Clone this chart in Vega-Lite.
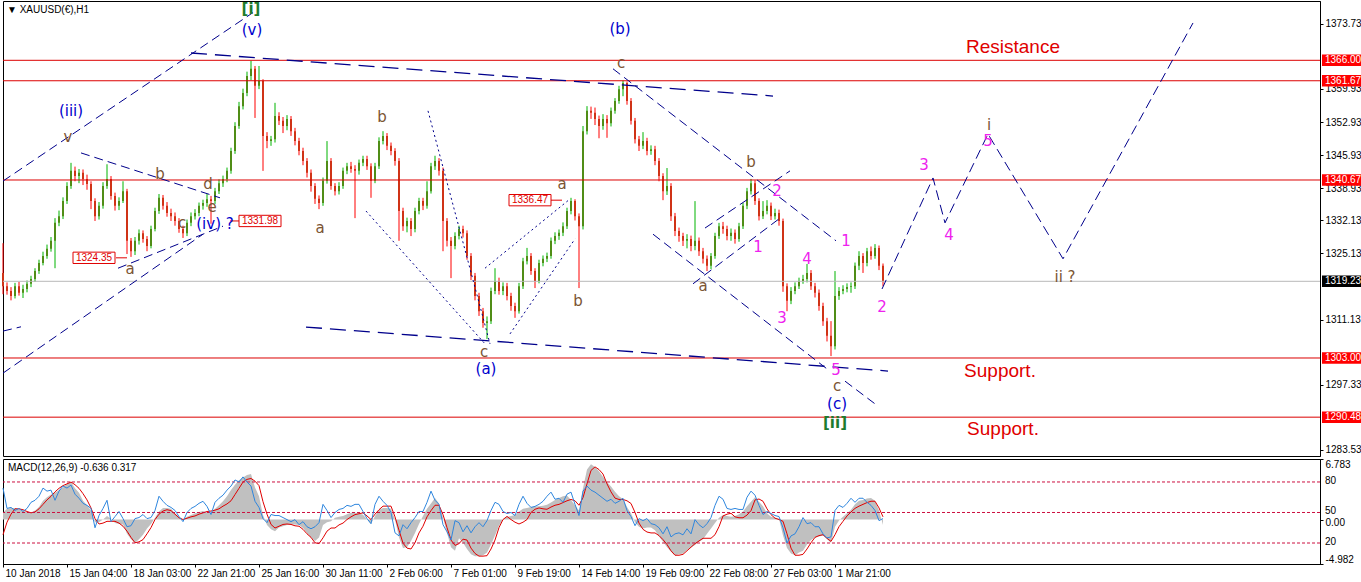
{
"$schema": "https://vega.github.io/schema/vega-lite/v6.json",
"background": "#FFFFFF",
"padding": 0,
"spacing": 1,
"config": {
  "view": {"stroke": "#000000", "strokeWidth": 1},
  "axis": {"labelFont": "Liberation Sans", "labelFontSize": 10, "labelColor": "#000000", "tickColor": "#000000", "domainColor": "#000000", "grid": false}
},
"data": {"name": "bars"},
"datasets": {
"bars": [
{"i":0,"o":1321.0,"h":1327.3,"l":1316.5,"c":1318.2,"m":0.8,"s":-1.7,"r":74},
{"i":4,"o":1318.2,"h":1319.0,"l":1316.4,"c":1317.2,"m":1.2,"s":-0.3,"r":54},
{"i":8,"o":1317.2,"h":1318.0,"l":1315.2,"c":1316.1,"m":1.3,"s":0.6,"r":55},
{"i":12,"o":1316.1,"h":1318.9,"l":1315.6,"c":1318.2,"m":1.3,"s":1.2,"r":52},
{"i":16,"o":1318.2,"h":1319.1,"l":1316.2,"c":1316.8,"m":1.1,"s":1.2,"r":54},
{"i":20,"o":1316.8,"h":1318.5,"l":1315.7,"c":1317.6,"m":1.0,"s":1.1,"r":51},
{"i":24,"o":1317.6,"h":1319.4,"l":1316.9,"c":1318.7,"m":0.85,"s":0.9,"r":54},
{"i":28,"o":1318.7,"h":1320.4,"l":1318.0,"c":1319.7,"m":0.8,"s":0.75,"r":60},
{"i":32,"o":1319.7,"h":1322.0,"l":1319.1,"c":1321.4,"m":1.0,"s":0.85,"r":62},
{"i":36,"o":1321.4,"h":1323.8,"l":1320.8,"c":1323.1,"m":1.4,"s":1.2,"r":66},
{"i":40,"o":1323.1,"h":1325.5,"l":1322.6,"c":1324.6,"m":2.1,"s":1.7,"r":74},
{"i":44,"o":1324.6,"h":1327.0,"l":1324.0,"c":1326.1,"m":2.5,"s":2.2,"r":71},
{"i":48,"o":1326.1,"h":1328.6,"l":1325.5,"c":1327.8,"m":2.8,"s":2.6,"r":72},
{"i":52,"o":1327.8,"h":1332.6,"l":1322.0,"c":1331.6,"m":3.0,"s":3.1,"r":62},
{"i":56,"o":1331.6,"h":1334.2,"l":1330.9,"c":1333.0,"m":3.3,"s":3.5,"r":71},
{"i":60,"o":1333.0,"h":1337.0,"l":1332.4,"c":1336.2,"m":3.6,"s":3.8,"r":76},
{"i":64,"o":1336.2,"h":1340.2,"l":1335.6,"c":1339.4,"m":4.0,"s":4.0,"r":74},
{"i":68,"o":1339.4,"h":1344.3,"l":1338.8,"c":1342.6,"m":4.2,"s":4.2,"r":77},
{"i":72,"o":1342.6,"h":1343.5,"l":1340.4,"c":1341.5,"m":3.5,"s":3.9,"r":68},
{"i":76,"o":1341.5,"h":1343.0,"l":1340.0,"c":1342.2,"m":3.0,"s":3.5,"r":64},
{"i":80,"o":1342.2,"h":1342.9,"l":1339.6,"c":1340.9,"m":2.1,"s":2.9,"r":59},
{"i":84,"o":1340.9,"h":1341.8,"l":1338.6,"c":1339.8,"m":1.6,"s":2.2,"r":57},
{"i":88,"o":1339.8,"h":1340.4,"l":1334.5,"c":1336.2,"m":1.0,"s":1.3,"r":54},
{"i":92,"o":1336.2,"h":1336.8,"l":1332.0,"c":1333.0,"m":-0.3,"s":0.1,"r":35},
{"i":96,"o":1333.0,"h":1336.0,"l":1332.3,"c":1335.2,"m":-0.3,"s":-0.5,"r":47},
{"i":100,"o":1335.2,"h":1340.2,"l":1334.6,"c":1339.4,"m":0.0,"s":-0.4,"r":54},
{"i":104,"o":1339.4,"h":1344.0,"l":1338.8,"c":1340.9,"m":0.4,"s":-0.2,"r":62},
{"i":108,"o":1340.9,"h":1341.5,"l":1336.5,"c":1337.3,"m":0.1,"s":-0.2,"r":41},
{"i":112,"o":1337.3,"h":1338.0,"l":1334.2,"c":1335.2,"m":-0.4,"s":-0.2,"r":46},
{"i":116,"o":1335.2,"h":1337.0,"l":1334.3,"c":1336.2,"m":-0.5,"s":-0.4,"r":51},
{"i":120,"o":1336.2,"h":1340.4,"l":1335.8,"c":1338.3,"m":-0.55,"s":-0.75,"r":44},
{"i":124,"o":1338.3,"h":1338.8,"l":1325.0,"c":1327.8,"m":-1.6,"s":-1.3,"r":36},
{"i":128,"o":1327.8,"h":1328.4,"l":1324.4,"c":1325.6,"m":-2.2,"s":-2.0,"r":37},
{"i":132,"o":1325.6,"h":1328.6,"l":1324.8,"c":1327.8,"m":-2.6,"s":-2.6,"r":44},
{"i":136,"o":1327.8,"h":1330.2,"l":1327.0,"c":1329.4,"m":-2.2,"s":-2.5,"r":45},
{"i":140,"o":1329.4,"h":1330.0,"l":1327.4,"c":1328.2,"m":-1.7,"s":-2.25,"r":48},
{"i":144,"o":1328.2,"h":1328.8,"l":1325.6,"c":1326.7,"m":-1.0,"s":-1.6,"r":44},
{"i":148,"o":1326.7,"h":1331.0,"l":1326.2,"c":1330.3,"m":-0.5,"s":-0.9,"r":45},
{"i":152,"o":1330.3,"h":1334.8,"l":1329.8,"c":1334.1,"m":0.2,"s":0.0,"r":52},
{"i":156,"o":1334.1,"h":1337.7,"l":1333.5,"c":1336.9,"m":0.9,"s":0.6,"r":66},
{"i":160,"o":1336.9,"h":1337.5,"l":1334.4,"c":1335.2,"m":1.3,"s":0.95,"r":61},
{"i":164,"o":1335.2,"h":1336.0,"l":1332.9,"c":1333.7,"m":1.3,"s":1.1,"r":57},
{"i":168,"o":1333.7,"h":1334.6,"l":1332.0,"c":1333.0,"m":1.2,"s":1.0,"r":55},
{"i":172,"o":1333.0,"h":1333.8,"l":1331.0,"c":1332.0,"m":0.7,"s":0.6,"r":52},
{"i":176,"o":1332.0,"h":1332.6,"l":1329.5,"c":1330.3,"m":0.3,"s":0.2,"r":46},
{"i":180,"o":1330.3,"h":1331.0,"l":1328.4,"c":1329.4,"m":0.0,"s":0.0,"r":41},
{"i":184,"o":1329.4,"h":1332.3,"l":1328.8,"c":1331.6,"m":0.3,"s":0.15,"r":50},
{"i":188,"o":1331.6,"h":1333.8,"l":1330.9,"c":1333.0,"m":0.5,"s":0.3,"r":54},
{"i":192,"o":1333.0,"h":1334.5,"l":1332.3,"c":1333.7,"m":0.7,"s":0.4,"r":56},
{"i":196,"o":1333.7,"h":1335.9,"l":1333.0,"c":1335.2,"m":0.85,"s":0.6,"r":59},
{"i":200,"o":1335.2,"h":1336.5,"l":1334.4,"c":1335.8,"m":0.95,"s":0.75,"r":61},
{"i":204,"o":1335.8,"h":1337.7,"l":1335.0,"c":1336.6,"m":0.8,"s":0.9,"r":56},
{"i":208,"o":1336.6,"h":1337.3,"l":1331.4,"c":1336.2,"m":0.8,"s":0.95,"r":48},
{"i":212,"o":1336.2,"h":1339.0,"l":1335.6,"c":1338.3,"m":1.2,"s":1.05,"r":60},
{"i":216,"o":1338.3,"h":1340.8,"l":1337.7,"c":1340.0,"m":1.6,"s":1.2,"r":64},
{"i":220,"o":1340.0,"h":1341.6,"l":1339.2,"c":1340.9,"m":2.05,"s":1.5,"r":67},
{"i":224,"o":1340.9,"h":1343.3,"l":1340.2,"c":1342.6,"m":2.6,"s":1.75,"r":72},
{"i":228,"o":1342.6,"h":1347.5,"l":1342.0,"c":1346.8,"m":3.3,"s":2.1,"r":76},
{"i":232,"o":1346.8,"h":1352.9,"l":1346.2,"c":1352.1,"m":3.9,"s":2.8,"r":82},
{"i":236,"o":1352.1,"h":1357.2,"l":1351.5,"c":1356.3,"m":4.4,"s":3.5,"r":80},
{"i":240,"o":1356.3,"h":1360.0,"l":1355.6,"c":1359.1,"m":4.7,"s":4.2,"r":85},
{"i":244,"o":1359.1,"h":1363.6,"l":1358.4,"c":1362.7,"m":5.0,"s":4.5,"r":80},
{"i":248,"o":1362.7,"h":1365.9,"l":1361.8,"c":1364.2,"m":5.1,"s":4.6,"r":76},
{"i":252,"o":1364.2,"h":1364.8,"l":1353.8,"c":1360.6,"m":3.6,"s":4.3,"r":61},
{"i":256,"o":1360.6,"h":1364.8,"l":1359.9,"c":1361.6,"m":2.6,"s":3.8,"r":55},
{"i":260,"o":1361.6,"h":1362.0,"l":1342.6,"c":1350.0,"m":0.5,"s":2.0,"r":44},
{"i":264,"o":1350.0,"h":1350.8,"l":1347.4,"c":1348.9,"m":-0.6,"s":0.6,"r":40},
{"i":268,"o":1348.9,"h":1350.0,"l":1347.9,"c":1349.3,"m":-1.1,"s":-0.55,"r":48},
{"i":272,"o":1349.3,"h":1357.0,"l":1348.6,"c":1354.2,"m":-1.3,"s":-0.95,"r":47},
{"i":276,"o":1354.2,"h":1355.0,"l":1352.3,"c":1353.2,"m":-0.9,"s":-0.75,"r":47},
{"i":280,"o":1353.2,"h":1354.0,"l":1350.6,"c":1352.1,"m":-0.75,"s":-0.55,"r":45},
{"i":284,"o":1352.1,"h":1354.4,"l":1351.2,"c":1353.6,"m":-0.6,"s":-0.5,"r":43},
{"i":288,"o":1353.6,"h":1354.2,"l":1350.0,"c":1351.0,"m":-0.55,"s":-0.55,"r":41},
{"i":292,"o":1351.0,"h":1351.7,"l":1348.0,"c":1348.9,"m":-0.55,"s":-0.7,"r":43},
{"i":296,"o":1348.9,"h":1349.6,"l":1345.9,"c":1346.8,"m":-0.6,"s":-0.75,"r":38},
{"i":300,"o":1346.8,"h":1347.5,"l":1343.8,"c":1344.7,"m":-0.95,"s":-1.1,"r":41},
{"i":304,"o":1344.7,"h":1345.3,"l":1341.2,"c":1342.2,"m":-1.5,"s":-1.6,"r":36},
{"i":308,"o":1342.2,"h":1342.9,"l":1338.2,"c":1339.4,"m":-2.0,"s":-2.0,"r":34},
{"i":312,"o":1339.4,"h":1340.0,"l":1335.6,"c":1336.7,"m":-2.4,"s":-2.6,"r":36},
{"i":316,"o":1336.7,"h":1337.4,"l":1334.5,"c":1335.8,"m":-2.0,"s":-2.7,"r":40},
{"i":320,"o":1335.8,"h":1341.2,"l":1335.2,"c":1340.5,"m":-0.6,"s":-2.05,"r":58},
{"i":324,"o":1340.5,"h":1348.9,"l":1339.9,"c":1344.7,"m":-0.3,"s":-1.3,"r":52},
{"i":328,"o":1344.7,"h":1345.3,"l":1338.6,"c":1339.4,"m":-0.2,"s":-0.95,"r":45},
{"i":332,"o":1339.4,"h":1340.0,"l":1337.4,"c":1338.3,"m":0.2,"s":-0.95,"r":50},
{"i":336,"o":1338.3,"h":1340.2,"l":1337.6,"c":1339.4,"m":0.3,"s":-0.6,"r":53},
{"i":340,"o":1339.4,"h":1343.3,"l":1338.8,"c":1342.6,"m":0.4,"s":-0.4,"r":54},
{"i":344,"o":1342.6,"h":1344.3,"l":1341.9,"c":1343.6,"m":0.6,"s":0.0,"r":57},
{"i":348,"o":1343.6,"h":1344.5,"l":1342.2,"c":1343.0,"m":0.75,"s":0.3,"r":56},
{"i":352,"o":1343.0,"h":1343.8,"l":1332.6,"c":1342.6,"m":0.75,"s":0.55,"r":58},
{"i":356,"o":1342.6,"h":1345.0,"l":1341.8,"c":1344.3,"m":0.7,"s":0.65,"r":58},
{"i":360,"o":1344.3,"h":1345.8,"l":1343.6,"c":1345.1,"m":0.55,"s":0.75,"r":51},
{"i":364,"o":1345.1,"h":1345.8,"l":1342.8,"c":1343.6,"m":0.0,"s":0.4,"r":44},
{"i":368,"o":1343.6,"h":1344.2,"l":1336.9,"c":1340.5,"m":-0.5,"s":0.0,"r":39},
{"i":372,"o":1340.5,"h":1344.3,"l":1340.0,"c":1343.6,"m":0.4,"s":0.6,"r":58},
{"i":376,"o":1343.6,"h":1349.7,"l":1343.0,"c":1348.9,"m":1.1,"s":1.1,"r":66},
{"i":380,"o":1348.9,"h":1351.0,"l":1348.2,"c":1350.0,"m":1.3,"s":1.5,"r":61},
{"i":384,"o":1350.0,"h":1350.6,"l":1347.0,"c":1347.9,"m":1.3,"s":1.5,"r":57},
{"i":388,"o":1347.9,"h":1348.6,"l":1345.9,"c":1346.8,"m":1.2,"s":1.5,"r":50},
{"i":392,"o":1346.8,"h":1347.4,"l":1343.7,"c":1344.7,"m":0.0,"s":0.3,"r":30},
{"i":396,"o":1344.7,"h":1345.3,"l":1327.8,"c":1334.1,"m":-2.0,"s":-1.2,"r":27},
{"i":400,"o":1334.1,"h":1334.8,"l":1329.9,"c":1330.9,"m":-3.2,"s":-2.65,"r":38},
{"i":404,"o":1330.9,"h":1332.7,"l":1329.6,"c":1332.0,"m":-3.1,"s":-3.2,"r":34},
{"i":408,"o":1332.0,"h":1332.6,"l":1328.8,"c":1330.3,"m":-2.4,"s":-3.3,"r":40},
{"i":412,"o":1330.3,"h":1334.8,"l":1329.6,"c":1334.1,"m":-1.5,"s":-2.6,"r":45},
{"i":416,"o":1334.1,"h":1336.9,"l":1333.4,"c":1336.2,"m":-0.5,"s":-1.5,"r":51},
{"i":420,"o":1336.2,"h":1336.9,"l":1334.3,"c":1335.2,"m":0.4,"s":-0.75,"r":51},
{"i":424,"o":1335.2,"h":1340.4,"l":1334.6,"c":1338.3,"m":1.2,"s":0.3,"r":60},
{"i":428,"o":1338.3,"h":1344.3,"l":1337.8,"c":1343.6,"m":1.8,"s":1.0,"r":71},
{"i":432,"o":1343.6,"h":1345.8,"l":1342.8,"c":1344.7,"m":2.4,"s":1.6,"r":62},
{"i":436,"o":1344.7,"h":1345.3,"l":1341.6,"c":1342.6,"m":1.8,"s":1.6,"r":58},
{"i":440,"o":1342.6,"h":1343.3,"l":1325.6,"c":1332.0,"m":0.2,"s":0.55,"r":38},
{"i":444,"o":1332.0,"h":1332.6,"l":1326.6,"c":1327.8,"m":-1.5,"s":-0.9,"r":31},
{"i":448,"o":1327.8,"h":1328.6,"l":1319.9,"c":1326.7,"m":-3.1,"s":-2.3,"r":23},
{"i":452,"o":1326.7,"h":1329.6,"l":1326.0,"c":1328.8,"m":-3.5,"s":-2.9,"r":42},
{"i":456,"o":1328.8,"h":1331.0,"l":1328.1,"c":1330.3,"m":-2.1,"s":-2.7,"r":40},
{"i":460,"o":1330.3,"h":1331.0,"l":1328.5,"c":1329.4,"m":-2.6,"s":-2.2,"r":31},
{"i":464,"o":1329.4,"h":1330.0,"l":1323.8,"c":1324.6,"m":-3.3,"s":-2.3,"r":37},
{"i":468,"o":1324.6,"h":1325.2,"l":1319.5,"c":1320.4,"m":-3.9,"s":-3.2,"r":30},
{"i":472,"o":1320.4,"h":1321.0,"l":1315.2,"c":1316.1,"m":-4.1,"s":-3.8,"r":36},
{"i":476,"o":1316.1,"h":1316.8,"l":1311.9,"c":1312.9,"m":-4.1,"s":-4.1,"r":40},
{"i":480,"o":1312.9,"h":1313.6,"l":1309.4,"c":1310.4,"m":-4.0,"s":-4.1,"r":36},
{"i":484,"o":1310.4,"h":1311.8,"l":1307.0,"c":1310.8,"m":-3.7,"s":-4.05,"r":42},
{"i":488,"o":1310.8,"h":1317.9,"l":1310.2,"c":1317.2,"m":-2.8,"s":-3.3,"r":52},
{"i":492,"o":1317.2,"h":1322.0,"l":1316.5,"c":1319.3,"m":-1.8,"s":-2.3,"r":60},
{"i":496,"o":1319.3,"h":1320.0,"l":1316.4,"c":1317.2,"m":-0.7,"s":-0.9,"r":58},
{"i":500,"o":1317.2,"h":1319.0,"l":1316.3,"c":1318.2,"m":0.0,"s":0.0,"r":51},
{"i":504,"o":1318.2,"h":1318.9,"l":1315.2,"c":1316.1,"m":0.3,"s":0.35,"r":49},
{"i":508,"o":1316.1,"h":1316.8,"l":1313.0,"c":1314.0,"m":0.4,"s":0.0,"r":50},
{"i":512,"o":1314.0,"h":1314.7,"l":1311.5,"c":1312.9,"m":0.5,"s":-0.3,"r":47},
{"i":516,"o":1312.9,"h":1318.9,"l":1312.4,"c":1318.2,"m":0.9,"s":-0.5,"r":58},
{"i":520,"o":1318.2,"h":1324.2,"l":1317.6,"c":1323.5,"m":1.2,"s":-0.3,"r":66},
{"i":524,"o":1323.5,"h":1326.3,"l":1322.8,"c":1324.6,"m":1.3,"s":0.0,"r":59},
{"i":528,"o":1324.6,"h":1325.2,"l":1320.6,"c":1321.4,"m":1.4,"s":0.8,"r":55},
{"i":532,"o":1321.4,"h":1322.0,"l":1317.8,"c":1319.3,"m":1.45,"s":1.15,"r":56},
{"i":536,"o":1319.3,"h":1323.8,"l":1318.8,"c":1323.1,"m":1.5,"s":1.3,"r":58},
{"i":540,"o":1323.1,"h":1324.7,"l":1322.4,"c":1324.0,"m":1.55,"s":1.2,"r":61},
{"i":544,"o":1324.0,"h":1325.3,"l":1323.3,"c":1324.6,"m":1.65,"s":1.15,"r":66},
{"i":548,"o":1324.6,"h":1328.5,"l":1324.0,"c":1327.8,"m":1.9,"s":1.4,"r":70},
{"i":552,"o":1327.8,"h":1329.6,"l":1327.1,"c":1328.8,"m":2.2,"s":1.6,"r":63},
{"i":556,"o":1328.8,"h":1330.2,"l":1328.0,"c":1329.5,"m":2.4,"s":1.7,"r":64},
{"i":560,"o":1329.5,"h":1331.7,"l":1328.8,"c":1330.9,"m":2.6,"s":1.9,"r":60},
{"i":564,"o":1330.9,"h":1334.8,"l":1330.3,"c":1334.1,"m":2.7,"s":2.1,"r":68},
{"i":568,"o":1334.1,"h":1336.9,"l":1333.4,"c":1336.2,"m":2.2,"s":2.25,"r":70},
{"i":572,"o":1336.2,"h":1336.6,"l":1332.1,"c":1333.0,"m":1.6,"s":2.1,"r":58},
{"i":576,"o":1333.0,"h":1333.6,"l":1317.8,"c":1330.9,"m":1.0,"s":1.6,"r":47},
{"i":580,"o":1330.9,"h":1352.1,"l":1330.2,"c":1351.0,"m":3.5,"s":2.45,"r":71},
{"i":584,"o":1351.0,"h":1356.3,"l":1350.3,"c":1355.3,"m":5.6,"s":4.0,"r":76},
{"i":588,"o":1355.3,"h":1356.2,"l":1353.6,"c":1354.9,"m":6.2,"s":5.5,"r":72},
{"i":592,"o":1354.9,"h":1356.0,"l":1352.3,"c":1353.6,"m":5.9,"s":5.9,"r":70},
{"i":596,"o":1353.6,"h":1354.3,"l":1349.5,"c":1352.1,"m":5.4,"s":5.6,"r":67},
{"i":600,"o":1352.1,"h":1354.6,"l":1351.3,"c":1353.6,"m":4.8,"s":5.1,"r":64},
{"i":604,"o":1353.6,"h":1354.4,"l":1349.6,"c":1352.7,"m":4.2,"s":4.0,"r":61},
{"i":608,"o":1352.7,"h":1356.0,"l":1352.0,"c":1355.3,"m":3.7,"s":3.1,"r":63},
{"i":612,"o":1355.3,"h":1358.0,"l":1354.7,"c":1357.4,"m":3.1,"s":2.4,"r":59},
{"i":616,"o":1357.4,"h":1360.6,"l":1356.8,"c":1359.9,"m":2.6,"s":2.25,"r":61},
{"i":620,"o":1359.9,"h":1361.7,"l":1358.4,"c":1361.2,"m":2.3,"s":2.25,"r":64},
{"i":624,"o":1361.2,"h":1361.5,"l":1356.6,"c":1357.4,"m":1.4,"s":2.1,"r":52},
{"i":628,"o":1357.4,"h":1358.0,"l":1352.4,"c":1353.2,"m":0.7,"s":1.8,"r":46},
{"i":632,"o":1353.2,"h":1353.8,"l":1348.4,"c":1349.3,"m":-0.3,"s":0.8,"r":37},
{"i":636,"o":1349.3,"h":1350.0,"l":1346.8,"c":1347.9,"m":-0.8,"s":-0.4,"r":44},
{"i":640,"o":1347.9,"h":1350.8,"l":1347.2,"c":1348.9,"m":-1.0,"s":-1.1,"r":42},
{"i":644,"o":1348.9,"h":1349.6,"l":1345.9,"c":1346.8,"m":-0.9,"s":-1.4,"r":44},
{"i":648,"o":1346.8,"h":1348.0,"l":1346.0,"c":1347.2,"m":-0.9,"s":-1.5,"r":39},
{"i":652,"o":1347.2,"h":1347.9,"l":1343.8,"c":1344.7,"m":-1.2,"s":-1.5,"r":38},
{"i":656,"o":1344.7,"h":1345.3,"l":1340.4,"c":1341.5,"m":-1.9,"s":-1.8,"r":35},
{"i":660,"o":1341.5,"h":1342.1,"l":1336.4,"c":1338.3,"m":-2.5,"s":-2.25,"r":29},
{"i":664,"o":1338.3,"h":1343.2,"l":1337.5,"c":1339.4,"m":-3.1,"s":-2.8,"r":36},
{"i":668,"o":1339.4,"h":1340.0,"l":1332.0,"c":1333.0,"m":-3.6,"s":-3.5,"r":26},
{"i":672,"o":1333.0,"h":1333.7,"l":1328.8,"c":1329.9,"m":-4.0,"s":-4.0,"r":29},
{"i":676,"o":1329.9,"h":1330.6,"l":1327.6,"c":1328.8,"m":-3.9,"s":-4.0,"r":30},
{"i":680,"o":1328.8,"h":1329.5,"l":1326.7,"c":1327.8,"m":-3.8,"s":-3.9,"r":28},
{"i":684,"o":1327.8,"h":1329.2,"l":1326.2,"c":1328.2,"m":-3.4,"s":-3.5,"r":34},
{"i":688,"o":1328.2,"h":1328.9,"l":1325.6,"c":1326.7,"m":-3.1,"s":-3.1,"r":29},
{"i":692,"o":1326.7,"h":1336.2,"l":1325.8,"c":1327.8,"m":-2.85,"s":-2.7,"r":43},
{"i":696,"o":1327.8,"h":1328.5,"l":1324.6,"c":1325.6,"m":-2.5,"s":-2.4,"r":38},
{"i":700,"o":1325.6,"h":1326.3,"l":1323.0,"c":1324.0,"m":-2.2,"s":-2.1,"r":35},
{"i":704,"o":1324.0,"h":1324.7,"l":1321.4,"c":1322.5,"m":-1.6,"s":-2.1,"r":39},
{"i":708,"o":1322.5,"h":1325.2,"l":1321.8,"c":1324.6,"m":-1.0,"s":-2.1,"r":45},
{"i":712,"o":1324.6,"h":1329.5,"l":1324.0,"c":1328.8,"m":-0.4,"s":-1.7,"r":57},
{"i":716,"o":1328.8,"h":1331.6,"l":1328.2,"c":1330.9,"m":0.2,"s":-0.8,"r":66},
{"i":720,"o":1330.9,"h":1331.8,"l":1329.3,"c":1330.3,"m":0.5,"s":0.4,"r":63},
{"i":724,"o":1330.3,"h":1331.0,"l":1327.9,"c":1328.8,"m":0.4,"s":0.6,"r":54},
{"i":728,"o":1328.8,"h":1330.4,"l":1327.8,"c":1329.5,"m":0.3,"s":0.7,"r":53},
{"i":732,"o":1329.5,"h":1330.2,"l":1327.2,"c":1328.2,"m":0.4,"s":0.3,"r":54},
{"i":736,"o":1328.2,"h":1331.6,"l":1327.6,"c":1330.9,"m":0.6,"s":0.2,"r":53},
{"i":740,"o":1330.9,"h":1335.8,"l":1330.3,"c":1335.2,"m":0.9,"s":0.2,"r":53},
{"i":744,"o":1335.2,"h":1339.0,"l":1334.5,"c":1338.3,"m":1.5,"s":0.5,"r":65},
{"i":748,"o":1338.3,"h":1340.9,"l":1337.6,"c":1340.0,"m":2.0,"s":1.0,"r":71},
{"i":752,"o":1340.0,"h":1340.6,"l":1335.4,"c":1336.2,"m":2.5,"s":2.2,"r":67},
{"i":756,"o":1336.2,"h":1336.8,"l":1332.1,"c":1333.0,"m":2.0,"s":2.3,"r":57},
{"i":760,"o":1333.0,"h":1336.2,"l":1332.4,"c":1334.1,"m":1.5,"s":2.05,"r":48},
{"i":764,"o":1334.1,"h":1336.4,"l":1333.4,"c":1335.2,"m":0.7,"s":1.2,"r":51},
{"i":768,"o":1335.2,"h":1335.9,"l":1332.2,"c":1333.0,"m":0.3,"s":0.55,"r":49},
{"i":772,"o":1333.0,"h":1334.6,"l":1332.3,"c":1333.7,"m":0.2,"s":0.15,"r":47},
{"i":776,"o":1333.7,"h":1334.4,"l":1331.0,"c":1332.0,"m":0.1,"s":0.0,"r":46},
{"i":780,"o":1332.0,"h":1332.5,"l":1317.0,"c":1318.2,"m":-1.8,"s":-0.2,"r":35},
{"i":784,"o":1318.2,"h":1318.8,"l":1312.9,"c":1315.1,"m":-3.2,"s":-1.6,"r":20},
{"i":788,"o":1315.1,"h":1318.0,"l":1314.4,"c":1317.2,"m":-3.8,"s":-3.2,"r":27},
{"i":792,"o":1317.2,"h":1319.0,"l":1316.5,"c":1318.2,"m":-4.0,"s":-4.0,"r":29},
{"i":796,"o":1318.2,"h":1320.0,"l":1317.6,"c":1319.3,"m":-3.7,"s":-4.0,"r":36},
{"i":800,"o":1319.3,"h":1320.6,"l":1318.7,"c":1319.7,"m":-3.5,"s":-3.9,"r":45},
{"i":804,"o":1319.7,"h":1322.9,"l":1319.0,"c":1321.0,"m":-2.8,"s":-3.3,"r":39},
{"i":808,"o":1321.0,"h":1321.6,"l":1317.4,"c":1318.2,"m":-2.3,"s":-2.6,"r":40},
{"i":812,"o":1318.2,"h":1318.9,"l":1315.8,"c":1316.8,"m":-2.0,"s":-2.0,"r":36},
{"i":816,"o":1316.8,"h":1317.5,"l":1313.0,"c":1314.0,"m":-1.9,"s":-1.8,"r":36},
{"i":820,"o":1314.0,"h":1314.7,"l":1309.8,"c":1310.8,"m":-1.8,"s":-1.7,"r":29},
{"i":824,"o":1310.8,"h":1311.5,"l":1306.5,"c":1307.7,"m":-2.2,"s":-2.1,"r":25},
{"i":828,"o":1307.7,"h":1310.8,"l":1303.4,"c":1305.5,"m":-2.6,"s":-2.45,"r":26},
{"i":832,"o":1305.5,"h":1321.4,"l":1304.8,"c":1316.1,"m":-0.8,"s":-1.7,"r":52},
{"i":836,"o":1316.1,"h":1318.0,"l":1315.3,"c":1317.2,"m":-0.1,"s":-0.8,"r":57},
{"i":840,"o":1317.2,"h":1318.4,"l":1316.5,"c":1317.6,"m":0.3,"s":-0.2,"r":55},
{"i":844,"o":1317.6,"h":1318.8,"l":1316.9,"c":1318.0,"m":0.7,"s":0.4,"r":59},
{"i":848,"o":1318.0,"h":1319.0,"l":1316.8,"c":1318.2,"m":1.1,"s":0.85,"r":64},
{"i":852,"o":1318.2,"h":1323.2,"l":1317.6,"c":1322.5,"m":1.7,"s":1.25,"r":60},
{"i":856,"o":1322.5,"h":1325.6,"l":1321.6,"c":1324.6,"m":2.1,"s":1.5,"r":64},
{"i":860,"o":1324.6,"h":1325.2,"l":1321.0,"c":1323.1,"m":2.2,"s":1.7,"r":64},
{"i":864,"o":1323.1,"h":1326.3,"l":1322.4,"c":1325.6,"m":2.35,"s":1.9,"r":60},
{"i":868,"o":1325.6,"h":1326.6,"l":1323.8,"c":1324.6,"m":2.4,"s":2.05,"r":57},
{"i":872,"o":1324.6,"h":1327.1,"l":1324.0,"c":1326.3,"m":2.1,"s":2.05,"r":52},
{"i":876,"o":1326.3,"h":1326.8,"l":1321.6,"c":1322.5,"m":1.0,"s":1.3,"r":42},
{"i":880,"o":1322.5,"h":1323.0,"l":1318.2,"c":1319.2,"m":-0.6,"s":0.3,"r":44}
],
"levels": [
{"v":1366.00,"k":"sr"},{"v":1361.67,"k":"sr"},{"v":1340.67,"k":"sr"},{"v":1303.00,"k":"sr"},{"v":1290.48,"k":"sr"},{"v":1319.23,"k":"last"}
],
"lines": [
{"g":"L1","s":"trend","i":0,"p":1340.45},{"g":"L1","s":"trend","i":250,"p":1376.1},
{"g":"L2","s":"trend","i":0,"p":1299.8},{"g":"L2","s":"trend","i":200,"p":1329.2},
{"g":"L3","s":"trend","i":0,"p":1308.7},{"g":"L3","s":"trend","i":18,"p":1309.6},
{"g":"L4","s":"trend","i":78,"p":1346.4},{"g":"L4","s":"trend","i":217,"p":1336.9},
{"g":"L5","s":"trend","i":115,"p":1322.0},{"g":"L5","s":"trend","i":220,"p":1330.9},
{"g":"L8","s":"trend","i":610,"p":1364.2},{"g":"L8","s":"trend","i":833,"p":1327.8},
{"g":"L9","s":"trend","i":650,"p":1329.2},{"g":"L9","s":"trend","i":827,"p":1300.2},
{"g":"L10","s":"trend","i":842,"p":1298.1},{"g":"L10","s":"trend","i":872,"p":1293.3},
{"g":"L11","s":"trend","i":702,"p":1330.5},{"g":"L11","s":"trend","i":787,"p":1342.6},
{"g":"L12","s":"trend","i":690,"p":1318.7},{"g":"L12","s":"trend","i":777,"p":1332.6},
{"g":"L6","s":"long","i":188,"p":1367.55},{"g":"L6","s":"long","i":770,"p":1358.44},
{"g":"L7","s":"long","i":303,"p":1309.55},{"g":"L7","s":"long","i":885,"p":1300.24},
{"g":"D1","s":"dot","i":363,"p":1334.1},{"g":"D1","s":"dot","i":482,"p":1306.0},
{"g":"D2","s":"dot","i":425,"p":1355.3},{"g":"D2","s":"dot","i":487,"p":1306.0},
{"g":"D3","s":"dot","i":482,"p":1322.0},{"g":"D3","s":"dot","i":567,"p":1336.65},
{"g":"D4","s":"dot","i":507,"p":1308.1},{"g":"D4","s":"dot","i":572,"p":1328.2},
{"g":"P","s":"proj","i":879,"p":1317.6},{"g":"P","s":"proj","i":930,"p":1341.1},{"g":"P","s":"proj","i":942,"p":1331.6},{"g":"P","s":"proj","i":985,"p":1350.4},{"g":"P","s":"proj","i":1060,"p":1324.0},{"g":"P","s":"proj","i":1190,"p":1373.9},
{"g":"T1","s":"tick","i":113,"p":1324.2},{"g":"T1","s":"tick","i":124,"p":1324.2},
{"g":"T2","s":"tick","i":227,"p":1332.0},{"g":"T2","s":"tick","i":236,"p":1332.0},
{"g":"T3","s":"tick","i":548,"p":1336.4},{"g":"T3","s":"tick","i":559,"p":1336.4}
],
"labels": [
{"t":"[i]","k":"intermediate","i":248,"p":1376.9},
{"t":"(v)","k":"minor","i":249,"p":1372.4},
{"t":"(iii)","k":"minor","i":68,"p":1355.3},
{"t":"v","k":"minute","i":65,"p":1349.8},
{"t":"b","k":"minute","i":157,"p":1341.9},
{"t":"d","k":"minute","i":205,"p":1339.8},
{"t":"e","k":"minute","i":209,"p":1334.9},
{"t":"c","k":"minute","i":179,"p":1331.6},
{"t":"a","k":"minute","i":127,"p":1321.8},
{"t":"(iv) ?","k":"minor","i":212,"p":1331.3},
{"t":"a","k":"minute","i":317,"p":1330.5},
{"t":"b","k":"minute","i":379,"p":1354.0},
{"t":"c","k":"minute","i":481,"p":1304.2},
{"t":"(a)","k":"minor","i":483,"p":1300.6},
{"t":"a","k":"minute","i":559,"p":1339.8},
{"t":"b","k":"minute","i":575,"p":1315.1},
{"t":"(b)","k":"minor","i":617,"p":1372.6},
{"t":"c","k":"minute","i":618,"p":1365.4},
{"t":"b","k":"minute","i":748,"p":1344.5},
{"t":"a","k":"minute","i":700,"p":1318.2},
{"t":"c","k":"minute","i":834,"p":1297.0},
{"t":"(c)","k":"minor","i":834,"p":1293.3},
{"t":"[ii]","k":"intermediate","i":832,"p":1289.2},
{"t":"i","k":"minute","i":986,"p":1352.3},
{"t":"ii ?","k":"minute","i":1062,"p":1320.1},
{"t":"2","k":"minuette","i":774,"p":1338.3},
{"t":"1","k":"minuette","i":755,"p":1326.5},
{"t":"4","k":"minuette","i":804,"p":1324.0},
{"t":"3","k":"minuette","i":779,"p":1311.5},
{"t":"1","k":"minuette","i":843,"p":1327.8},
{"t":"2","k":"minuette","i":879,"p":1313.8},
{"t":"5","k":"minuette","i":833,"p":1300.5},
{"t":"3","k":"minuette","i":921,"p":1343.8},
{"t":"4","k":"minuette","i":946,"p":1329.0},
{"t":"5","k":"minuette","i":985,"p":1348.9},
{"t":"Resistance","k":"zone","i":1010,"p":1368.8},
{"t":"Support.","k":"zone","i":997,"p":1300.2},
{"t":"Support.","k":"zone","i":1000,"p":1288.0}
],
"marks": [
{"t":"1324.35","i":91,"p":1324.2},
{"t":"1331.98","i":257,"p":1332.0},
{"t":"1336.47","i":527,"p":1336.4}
],
"osc": [
{"lv":80,"t":"80"},{"lv":50,"t":"50"},{"lv":20,"t":"20"}
]
},
"vconcat": [
{
"width": 1317,
"height": 455,
"layer": [
{"data": {"name": "bars"}, "mark": {"type": "rule", "strokeWidth": 2, "color": "#A0662C", "strokeCap": "butt"},
 "encoding": {
  "x": {"field": "i", "type": "quantitative", "scale": {"domain": [0, 1317], "nice": false, "zero": false}, "axis": null},
  "y": {"field": "o", "type": "quantitative", "scale": {"domain": [1282.26, 1378.55], "nice": false, "zero": false}, "title": null,
        "axis": {"orient": "right", "values": [1373.73, 1359.93, 1352.93, 1345.93, 1338.93, 1332.13, 1325.13, 1311.13, 1297.33, 1283.53], "format": ".2f", "tickSize": 3, "labelPadding": 2, "labelFlush": false, "title": null}},
  "y2": {"field": "c"}}},
{"data": {"name": "bars"}, "mark": {"type": "rule", "strokeWidth": 1},
 "encoding": {
  "x": {"field": "i", "type": "quantitative", "scale": {"domain": [0, 1317], "nice": false, "zero": false}, "axis": null},
  "y": {"field": "l", "type": "quantitative", "scale": {"domain": [1282.26, 1378.55], "nice": false, "zero": false}, "title": null},
  "y2": {"field": "h"},
  "color": {"condition": {"test": "datum.c >= datum.o", "value": "#00B400"}, "value": "#FF0000"}}},
{"data": {"name": "levels"}, "mark": {"type": "rule", "strokeWidth": 1},
 "encoding": {
  "y": {"field": "v", "type": "quantitative", "scale": {"domain": [1282.26, 1378.55], "nice": false, "zero": false}, "title": null},
  "color": {"condition": {"test": "datum.k == 'last'", "value": "#B8B8B8"}, "value": "#DD0000"}}},
{"data": {"name": "lines"}, "transform": [{"filter": "datum.s == 'trend'"}], "mark": {"type": "line", "color": "#00008B", "strokeWidth": 1, "strokeDash": [9, 5]},
 "encoding": {
  "x": {"field": "i", "type": "quantitative", "scale": {"domain": [0, 1317], "nice": false, "zero": false}, "axis": null},
  "y": {"field": "p", "type": "quantitative", "scale": {"domain": [1282.26, 1378.55], "nice": false, "zero": false}, "title": null},
  "detail": {"field": "g", "type": "nominal"}}},
{"data": {"name": "lines"}, "transform": [{"filter": "datum.s == 'long'"}], "mark": {"type": "line", "color": "#00008B", "strokeWidth": 1.3, "strokeDash": [16, 8]},
 "encoding": {
  "x": {"field": "i", "type": "quantitative", "scale": {"domain": [0, 1317], "nice": false, "zero": false}, "axis": null},
  "y": {"field": "p", "type": "quantitative", "scale": {"domain": [1282.26, 1378.55], "nice": false, "zero": false}, "title": null},
  "detail": {"field": "g", "type": "nominal"}}},
{"data": {"name": "lines"}, "transform": [{"filter": "datum.s == 'dot'"}], "mark": {"type": "line", "color": "#00008B", "strokeWidth": 1, "strokeDash": [2, 3]},
 "encoding": {
  "x": {"field": "i", "type": "quantitative", "scale": {"domain": [0, 1317], "nice": false, "zero": false}, "axis": null},
  "y": {"field": "p", "type": "quantitative", "scale": {"domain": [1282.26, 1378.55], "nice": false, "zero": false}, "title": null},
  "detail": {"field": "g", "type": "nominal"}}},
{"data": {"name": "lines"}, "transform": [{"filter": "datum.s == 'proj'"}], "mark": {"type": "line", "color": "#00008B", "strokeWidth": 1, "strokeDash": [10, 5]},
 "encoding": {
  "x": {"field": "i", "type": "quantitative", "scale": {"domain": [0, 1317], "nice": false, "zero": false}, "axis": null},
  "y": {"field": "p", "type": "quantitative", "scale": {"domain": [1282.26, 1378.55], "nice": false, "zero": false}, "title": null},
  "detail": {"field": "g", "type": "nominal"}}},
{"data": {"name": "lines"}, "transform": [{"filter": "datum.s == 'tick'"}], "mark": {"type": "line", "color": "#E00000", "strokeWidth": 1},
 "encoding": {
  "x": {"field": "i", "type": "quantitative", "scale": {"domain": [0, 1317], "nice": false, "zero": false}, "axis": null},
  "y": {"field": "p", "type": "quantitative", "scale": {"domain": [1282.26, 1378.55], "nice": false, "zero": false}, "title": null},
  "detail": {"field": "g", "type": "nominal"}}},
{"data": {"name": "labels"}, "transform": [{"filter": "datum.k == 'minute'"}], "mark": {"type": "text", "font": "DejaVu Sans", "fontSize": 15, "color": "#7B5433", "align": "center", "baseline": "middle"},
 "encoding": {
  "x": {"field": "i", "type": "quantitative", "scale": {"domain": [0, 1317], "nice": false, "zero": false}, "axis": null},
  "y": {"field": "p", "type": "quantitative", "scale": {"domain": [1282.26, 1378.55], "nice": false, "zero": false}, "title": null},
  "text": {"field": "t"}}},
{"data": {"name": "labels"}, "transform": [{"filter": "datum.k == 'minuette'"}], "mark": {"type": "text", "font": "DejaVu Sans", "fontSize": 15, "color": "#EE22EE", "align": "center", "baseline": "middle"},
 "encoding": {
  "x": {"field": "i", "type": "quantitative", "scale": {"domain": [0, 1317], "nice": false, "zero": false}, "axis": null},
  "y": {"field": "p", "type": "quantitative", "scale": {"domain": [1282.26, 1378.55], "nice": false, "zero": false}, "title": null},
  "text": {"field": "t"}}},
{"data": {"name": "labels"}, "transform": [{"filter": "datum.k == 'minor'"}], "mark": {"type": "text", "font": "DejaVu Sans", "fontSize": 15, "color": "#0000CD", "align": "center", "baseline": "middle"},
 "encoding": {
  "x": {"field": "i", "type": "quantitative", "scale": {"domain": [0, 1317], "nice": false, "zero": false}, "axis": null},
  "y": {"field": "p", "type": "quantitative", "scale": {"domain": [1282.26, 1378.55], "nice": false, "zero": false}, "title": null},
  "text": {"field": "t"}}},
{"data": {"name": "labels"}, "transform": [{"filter": "datum.k == 'intermediate'"}], "mark": {"type": "text", "font": "DejaVu Sans", "fontSize": 15, "fontWeight": "bold", "color": "#1E7B2E", "align": "center", "baseline": "middle"},
 "encoding": {
  "x": {"field": "i", "type": "quantitative", "scale": {"domain": [0, 1317], "nice": false, "zero": false}, "axis": null},
  "y": {"field": "p", "type": "quantitative", "scale": {"domain": [1282.26, 1378.55], "nice": false, "zero": false}, "title": null},
  "text": {"field": "t"}}},
{"data": {"name": "labels"}, "transform": [{"filter": "datum.k == 'zone'"}], "mark": {"type": "text", "font": "Liberation Sans", "fontSize": 19, "color": "#E00000", "align": "center", "baseline": "middle"},
 "encoding": {
  "x": {"field": "i", "type": "quantitative", "scale": {"domain": [0, 1317], "nice": false, "zero": false}, "axis": null},
  "y": {"field": "p", "type": "quantitative", "scale": {"domain": [1282.26, 1378.55], "nice": false, "zero": false}, "title": null},
  "text": {"field": "t"}}},
{"data": {"name": "marks"}, "mark": {"type": "point", "shape": "M-1,-0.27H1V0.27H-1Z", "size": 1764, "filled": true, "fill": "#FFFFFF", "stroke": "#E00000", "strokeWidth": 1, "opacity": 1},
 "encoding": {
  "x": {"field": "i", "type": "quantitative", "scale": {"domain": [0, 1317], "nice": false, "zero": false}, "axis": null},
  "y": {"field": "p", "type": "quantitative", "scale": {"domain": [1282.26, 1378.55], "nice": false, "zero": false}, "title": null}}},
{"data": {"name": "marks"}, "mark": {"type": "text", "font": "Liberation Sans", "fontSize": 10, "color": "#E00000", "align": "center", "baseline": "middle"},
 "encoding": {
  "x": {"field": "i", "type": "quantitative", "scale": {"domain": [0, 1317], "nice": false, "zero": false}, "axis": null},
  "y": {"field": "p", "type": "quantitative", "scale": {"domain": [1282.26, 1378.55], "nice": false, "zero": false}, "title": null},
  "text": {"field": "t"}}},
{"data": {"name": "levels"}, "mark": {"type": "point", "shape": "M0,-0.55H3.9V0.55H0Z", "size": 441, "filled": true, "opacity": 1, "strokeWidth": 0},
 "encoding": {
  "x": {"datum": 1319, "type": "quantitative", "scale": {"domain": [0, 1317], "nice": false, "zero": false}, "axis": null},
  "y": {"field": "v", "type": "quantitative", "scale": {"domain": [1282.26, 1378.55], "nice": false, "zero": false}, "title": null},
  "color": {"condition": {"test": "datum.k == 'last'", "value": "#000000"}, "value": "#FF0000"}}},
{"data": {"name": "levels"}, "mark": {"type": "text", "font": "Liberation Sans", "fontSize": 10, "color": "#FFFFFF", "align": "left", "baseline": "middle", "dx": 3},
 "encoding": {
  "x": {"datum": 1319, "type": "quantitative", "scale": {"domain": [0, 1317], "nice": false, "zero": false}, "axis": null},
  "y": {"field": "v", "type": "quantitative", "scale": {"domain": [1282.26, 1378.55], "nice": false, "zero": false}, "title": null},
  "text": {"field": "v", "type": "quantitative", "format": ".2f"}}},
{"data": {"values": [{"t": "▼ XAUUSD(€),H1", "p": 1376.6}]}, "mark": {"type": "text", "font": "Liberation Sans", "fontSize": 10, "color": "#000000", "align": "left", "baseline": "middle"},
 "encoding": {
  "x": {"datum": 4, "type": "quantitative", "scale": {"domain": [0, 1317], "nice": false, "zero": false}, "axis": null},
  "y": {"field": "p", "type": "quantitative", "scale": {"domain": [1282.26, 1378.55], "nice": false, "zero": false}, "title": null},
  "text": {"field": "t"}}}
]
},
{
"width": 1317,
"height": 105,
"layer": [
 {"layer": [
  {"data": {"name": "bars"}, "mark": {"type": "area", "color": "#C0C0C0"},
   "encoding": {
    "x": {"field": "i", "type": "quantitative", "scale": {"domain": [0, 1317], "nice": false, "zero": false}, "title": null,
          "axis": {"values": [0, 64, 128, 192, 256, 320, 384, 448, 512, 576, 640, 704, 768, 832], "labelExpr": "['10 Jan 2018','15 Jan 04:00','18 Jan 03:00','22 Jan 21:00','25 Jan 16:00','30 Jan 11:00','2 Feb 06:00','7 Feb 01:00','9 Feb 19:00','14 Feb 14:00','19 Feb 09:00','22 Feb 08:00','27 Feb 03:00','1 Mar 21:00'][round(datum.value/64)]", "labelAlign": "left", "labelOffset": 2, "tickSize": 3, "labelPadding": 1, "labelFlush": false, "title": null}},
    "y": {"field": "m", "type": "quantitative", "scale": {"domain": [-4.982, 6.783], "nice": false, "zero": false}, "title": null,
          "axis": {"orient": "right", "values": [6.783, 0, -4.982], "format": ".3~f", "labelExpr": "datum.value > 6 ? '6.783' : datum.value < -4 ? '-4.982' : '0.00'", "labelOffset": {"condition": {"test": "datum.value == 0", "value": 3}, "value": 0}, "tickSize": 3, "labelPadding": 2, "labelFlush": true, "title": null}},
    "y2": {"datum": 0}}},
  {"data": {"name": "bars"}, "mark": {"type": "line", "color": "#E00000", "strokeWidth": 1},
   "encoding": {
    "x": {"field": "i", "type": "quantitative", "scale": {"domain": [0, 1317], "nice": false, "zero": false}, "title": null},
    "y": {"field": "s", "type": "quantitative", "scale": {"domain": [-4.982, 6.783], "nice": false, "zero": false}, "title": null}}},
  {"data": {"values": [{"t": "MACD(12,26,9) -0.636 0.317", "i": 5, "v": 5.77}]}, "mark": {"type": "text", "font": "Liberation Sans", "fontSize": 10, "color": "#000000", "align": "left", "baseline": "middle"},
   "encoding": {
    "x": {"field": "i", "type": "quantitative", "scale": {"domain": [0, 1317], "nice": false, "zero": false}, "title": null},
    "y": {"field": "v", "type": "quantitative", "scale": {"domain": [-4.982, 6.783], "nice": false, "zero": false}, "title": null},
    "text": {"field": "t"}}}
 ]},
 {"layer": [
  {"data": {"name": "osc"}, "mark": {"type": "rule", "color": "#CC1040", "strokeWidth": 1, "strokeDash": [3, 2]},
   "encoding": {
    "y": {"field": "lv", "type": "quantitative", "scale": {"domain": [-0.65, 102.6], "nice": false, "zero": false}, "title": null, "axis": null}}},
  {"data": {"name": "osc"}, "mark": {"type": "text", "font": "Liberation Sans", "fontSize": 10, "color": "#000000", "align": "left", "baseline": "middle", "dx": 3, "dy": -1},
   "encoding": {
    "x": {"datum": 1319, "type": "quantitative", "scale": {"domain": [0, 1317], "nice": false, "zero": false}, "title": null},
    "y": {"field": "lv", "type": "quantitative", "scale": {"domain": [-0.65, 102.6], "nice": false, "zero": false}, "title": null, "axis": null},
    "text": {"field": "t"}}},
  {"data": {"name": "bars"}, "mark": {"type": "line", "color": "#2E86DE", "strokeWidth": 1},
   "encoding": {
    "x": {"field": "i", "type": "quantitative", "scale": {"domain": [0, 1317], "nice": false, "zero": false}, "title": null},
    "y": {"field": "r", "type": "quantitative", "scale": {"domain": [-0.65, 102.6], "nice": false, "zero": false}, "title": null, "axis": null}}}
 ]}
],
"resolve": {"scale": {"y": "independent"}}
}
]
}
